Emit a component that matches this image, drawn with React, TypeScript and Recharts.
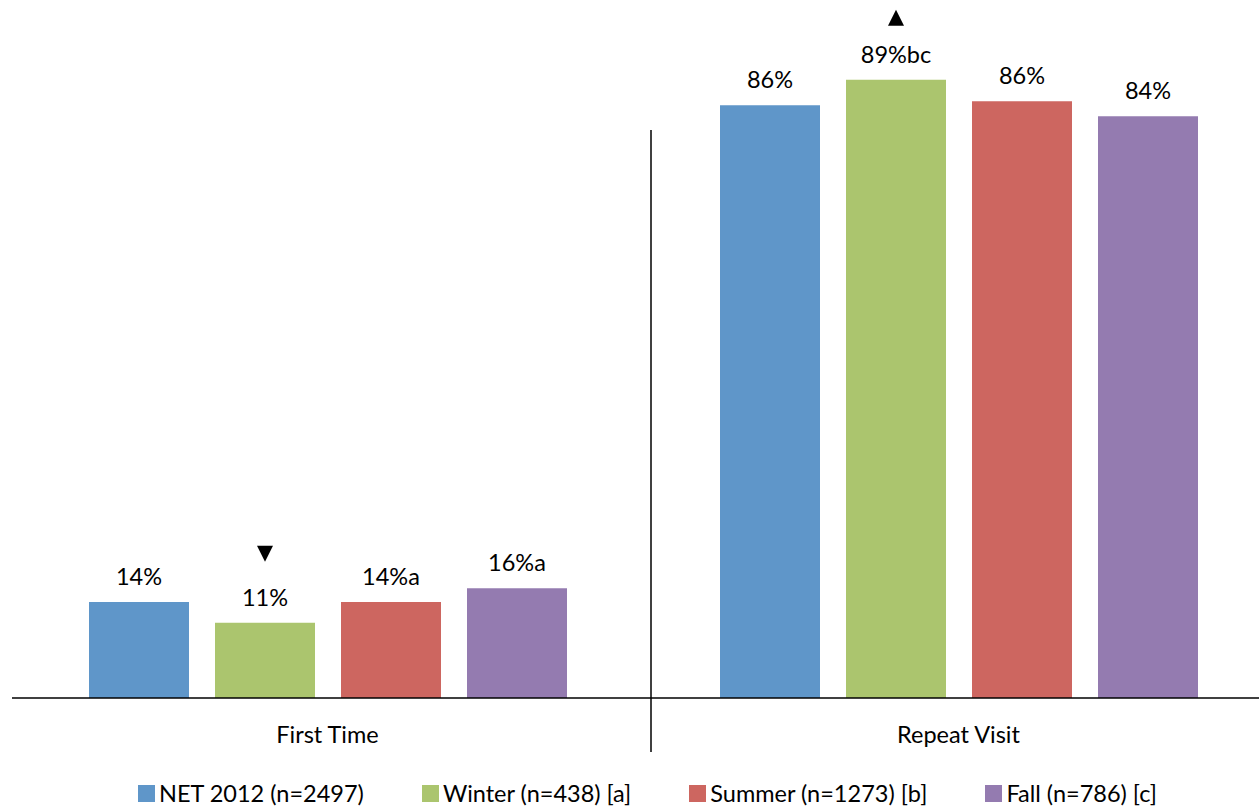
import React from "react";
import { BarChart, Bar, XAxis, YAxis, Legend, LabelList } from "recharts";

const categories = ["First Time", "Repeat Visit"];
const netValues = [13.9, 85.9];
const winterValues = [10.9, 89.6];
const summerValues = [13.9, 86.5];
const fallValues = [15.9, 84.3];

// label text as printed on the chart (significance letters included)
const netLabels = ["14%", "86%"];
const winterLabels = ["11%", "89%bc"];
const summerLabels = ["14%a", "86%"];
const fallLabels = ["16%a", "84%"];
const winterMarks = ["down", "up"];
const noMarks = ["", ""];

const seriesList = [
  { key: "net", name: "NET 2012 (n=2497)", color: "#5f96c9", labels: netLabels, marks: noMarks },
  { key: "winter", name: "Winter (n=438) [a]", color: "#abc56e", labels: winterLabels, marks: winterMarks },
  { key: "summer", name: "Summer (n=1273) [b]", color: "#cd6660", labels: summerLabels, marks: noMarks },
  { key: "fall", name: "Fall (n=786) [c]", color: "#947bb0", labels: fallLabels, marks: noMarks }
];

const data = categories.map((c, i) => ({
  category: c,
  net: netValues[i],
  winter: winterValues[i],
  summer: summerValues[i],
  fall: fallValues[i]
}));

const FONT = "Lato, 'Open Sans', sans-serif";
const FS = 23.5;

const makeLabel = (labels: string[], marks: string[]) => (props: any) => {
  const { x, y, width, index } = props;
  const cx = Number(x) + Number(width) / 2;
  const top = Number(y);
  const mark = marks[index];
  return (
    <g>
      <text x={cx} y={top - 17} textAnchor="middle" fontSize={FS} fontFamily={FONT} fill="#000">
        {labels[index]}
      </text>
      {mark === "down" && (
        <polygon points={`${cx - 8},${top - 77} ${cx + 8},${top - 77} ${cx},${top - 61}`} fill="#000" />
      )}
      {mark === "up" && (
        <polygon points={`${cx - 8},${top - 54} ${cx + 8},${top - 54} ${cx},${top - 70}`} fill="#000" />
      )}
    </g>
  );
};

const LegendContent = () => (
  <div
    style={{
      display: "flex",
      justifyContent: "center",
      gap: 58,
      fontFamily: FONT,
      fontSize: FS,
      color: "#000",
      height: 30,
      alignItems: "center",
      paddingLeft: 36
    }}
  >
    {seriesList.map((s) => (
      <div key={s.key} style={{ display: "flex", alignItems: "center" }}>
        <span style={{ width: 17, height: 17, background: s.color, marginRight: 4, display: "inline-block" }} />
        <span>{s.name}</span>
      </div>
    ))}
  </div>
);

export default function App() {
  return (
    <div style={{ position: "absolute", left: 0, top: 0, width: 1259, height: 808, overflow: "hidden", background: "#fff" }}>
      <BarChart
        width={1290}
        height={808}
        data={data}
        margin={{ top: 8, right: 16, bottom: 24, left: 12 }}
        barCategoryGap={76}
        barGap={26}
      >
        <XAxis
          dataKey="category"
          axisLine={{ stroke: "#000", strokeWidth: 1.3 }}
          tickLine={false}
          height={56}
          tickMargin={22}
          tick={{ fontSize: FS, fontFamily: FONT, fill: "#000" }}
        />
        <YAxis hide domain={[0, 100]} />
        <Legend
          verticalAlign="bottom"
          content={<LegendContent />}
          wrapperStyle={{ bottom: 0, left: 0, width: 1259 }}
        />
        {seriesList.map((s) => (
          <Bar key={s.key} dataKey={s.key} name={s.name} fill={s.color} barSize={100} isAnimationActive={false}>
            <LabelList dataKey={s.key} content={makeLabel(s.labels, s.marks)} />
          </Bar>
        ))}
      </BarChart>
      <svg style={{ position: "absolute", left: 0, top: 0, pointerEvents: "none" }} width={1259} height={808}>
        <line x1={651} y1={130} x2={651} y2={752} stroke="#000" strokeWidth={1.5} />
      </svg>
    </div>
  );
}
